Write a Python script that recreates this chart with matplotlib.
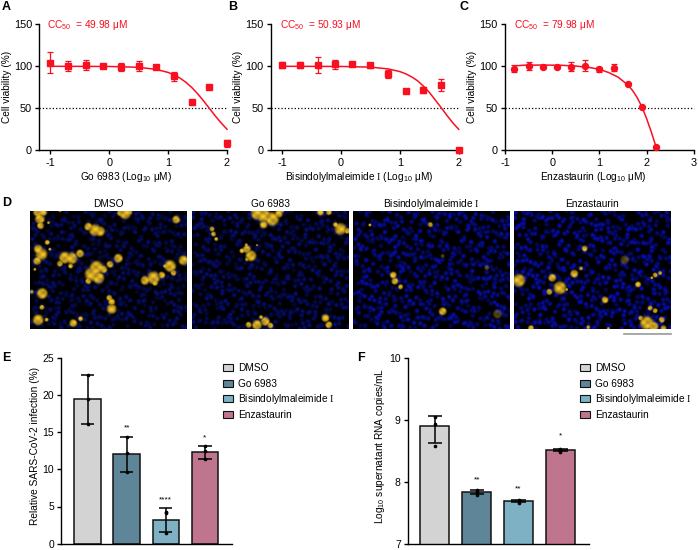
import numpy as np
import matplotlib
matplotlib.use("Agg")
import matplotlib.pyplot as plt
from matplotlib.patches import Rectangle

plt.rcParams['font.family'] = ['Liberation Sans', 'DejaVu Sans']
plt.rcParams['mathtext.fontset'] = 'custom'
plt.rcParams['mathtext.rm'] = 'Liberation Sans'
plt.rcParams['mathtext.tt'] = 'Liberation Serif'
plt.rcParams['mathtext.default'] = 'rm'
plt.rcParams['axes.unicode_minus'] = False

W, H = 698, 550
RED = "#f80f20"
FS = 7.3
BIS = "Bisindolylmaleimide $\\mathtt{I}$"

# dose response data
a_x = [-1, -0.7, -0.4, -0.1, 0.2, 0.5, 0.8, 1.1, 1.4, 1.7, 2]
a_y = [104, 100.5, 101.5, 100.5, 99.5, 100.5, 99.5, 88, 58, 75.5, 8.5]
a_err = [12.5, 5.5, 5.5, 2, 4.5, 6, 2, 5.5, 0, 0, 4]
a_fit_x = [-1, 0, 0.5, 0.8, 1, 1.1, 1.2, 1.3, 1.4, 1.5, 1.6, 1.7, 1.8, 1.9, 2]
a_fit_y = [100, 99.8, 98.8, 96.3, 92.7, 89.9, 86, 81.1, 74.9, 67.4, 59, 50, 41, 32.6, 25.1]

b_x = [-1, -0.7, -0.4, -0.1, 0.18, 0.5, 0.8, 1.1, 1.4, 1.7, 2]
b_y = [102, 101.5, 101.5, 102.5, 102.5, 101, 90.5, 71, 72, 78, 0.5]
b_err = [3.5, 3.5, 9, 5.5, 2, 3.5, 5, 0, 3.5, 7, 0]
b_fit_x = [-1, 0, 0.5, 0.8, 1, 1.1, 1.2, 1.3, 1.4, 1.5, 1.6, 1.7, 1.8, 1.9, 2]
b_fit_y = [100, 99.8, 99, 96.9, 93.7, 91, 87.4, 82.8, 76.4, 69, 60, 51, 41.5, 32.7, 25]

c_x = [-0.8, -0.5, -0.2, 0.1, 0.4, 0.7, 1.0, 1.3, 1.6, 1.9, 2.2]
c_y = [97, 100.5, 99.5, 99, 99.5, 100.5, 96.5, 98.5, 79, 52, 4.5]
c_err = [4, 5, 1.5, 1.5, 5.5, 6.5, 3, 4, 1.5, 1, 0.5]
c_fit_x = [-0.8, -0.6, -0.2, 0.2, 0.5, 0.8, 1, 1.2, 1.4, 1.6, 1.7, 1.8, 1.9, 2, 2.1, 2.2]
c_fit_y = [100.5, 101.3, 101.5, 101.2, 100.3, 98.5, 96.5, 92.5, 87, 78, 71.5, 63, 52, 38, 22, 4.5]

# bar data
groups = ["DMSO", "Go 6983", BIS, "Enzastaurin"]
bar_colors = ["#d3d3d3", "#5f8598", "#7fb1c4", "#c0758f"]

e_means = [19.4, 12.1, 3.2, 12.3]
e_low = [16.1, 9.7, 1.6, 11.4]
e_high = [22.7, 14.4, 4.8, 13.1]
e_points = [[16.1, 19.5, 22.7], [9.7, 12.2, 14.4], [1.4, 4.1, 4.2], [11.4, 12.4, 13.1]]
e_sig = ["", "**", "****", "*"]
e_sig_y = [0, 15.5, 5.9, 14.2]

f_means = [8.9, 7.83, 7.69, 8.51]
f_low = [8.62, 7.8, 7.67, 8.49]
f_high = [9.06, 7.86, 7.71, 8.53]
f_points = [[8.58, 8.93, 9.05], [7.79, 7.83, 7.86], [7.66, 7.69, 7.71], [8.48, 8.51, 8.53]]
f_sig = ["", "**", "**", "*"]
f_sig_y = [0, 8.03, 7.88, 8.74]

# infected cell clusters seen in each micrograph: x, y, radius (3x pixels)
dmso_blobs = [(115,85,10),(130,85,8),(120,105,10),(122,125,7),(146,116,3),(265,128,8),(285,138,12),
    (300,142,10),(375,88,12),(360,88,6),(390,85,5),(528,107,8),(142,175,5),(115,195,9),(125,210,12),
    (112,230,8),(105,255,3),(150,195,3),(180,238,6),(195,220,12),(215,222,12),(240,208,8),(212,245,5),
    (355,222,9),(330,240,7),(310,255,8),(290,250,14),(275,270,14),(295,280,12),(265,290,6),(550,228,10),
    (510,245,12),(520,265,6),(495,245,4),(435,288,9),(460,280,13),(485,272,7),(465,295,6),(127,327,11),
    (96,322,4),(126,368,5),(328,340,6),(335,352,7),(335,373,10),(115,405,11),(140,405,4),(220,415,8),
    (242,402,5),(180,79,4)]
go_blobs = [(770,90,12),(790,95,14),(815,105,14),(790,122,8),(835,90,8),(845,80,5),(760,80,6),(960,85,7),
    (985,85,6),(635,135,5),(640,150,5),(648,165,4),(1005,122,5),(1020,135,12),(1040,140,6),(725,200,5),
    (740,195,8),(752,215,11),(740,225,4),(738,182,3),(770,183,2),(745,420,6),(770,420,10),(795,410,9),
    (810,422,6),(782,397,4),(975,400,8),(985,420,7)]
bis_blobs = [(60,123,3),(241,122,5),(130,272,7),(135,290,7),(152,307,5),(278,380,8)]
enz_blobs = [(507,288,13),(607,280,8),(630,310,13),(598,322,6),(650,315,3),(673,268,8),(693,252,4),
    (704,193,6),(915,272,5),(930,266,4),(905,280,3),(864,300,6),(765,346,7),(900,370,5),(915,378,5),
    (890,415,14),(872,400,5),(935,405,6),(910,425,10),(940,430,6),(543,430,6),(715,427,4),(775,431,3)]
bis_dim = [(278,215,4),(410,250,5),(442,388,9)]
enz_dim = [(824,227,9)]


def px_axes(fig, left, right, top, bottom):
    return fig.add_axes([left / W, 1 - bottom / H, (right - left) / W, (bottom - top) / H])


def style(ax, size):
    ax.spines['top'].set_visible(False)
    ax.spines['right'].set_visible(False)
    for s in ['left', 'bottom']:
        ax.spines[s].set_linewidth(1.0)
    ax.tick_params(width=1.0, length=3.2, labelsize=size, pad=2)


def dose_panel(fig, box, xlim, xticks, x, y, err, fx, fy, marker, xlabel, label_px, cc50, cc_x):
    ax = px_axes(fig, *box)
    style(ax, 7.8)
    ax.plot(xlim, [50, 50], color="black", ls=":", lw=0.9, clip_on=False)
    ax.plot(fx, fy, color=RED, lw=1.1, clip_on=False, zorder=3)
    ax.errorbar(x, y, yerr=err, fmt=marker, color=RED, ms=4.3, lw=0.9, capsize=2.3, capthick=0.9,
                clip_on=False, zorder=4)
    ax.set_xlim(xlim)
    ax.set_ylim(0, 150)
    ax.set_xticks(xticks)
    ax.set_yticks([0, 50, 100, 150])
    ax.set_xlabel(xlabel, fontsize=FS, labelpad=1.5, x=(label_px - box[0]) / (box[1] - box[0]))
    ax.set_ylabel("Cell viability (%)", fontsize=FS, labelpad=1.5)
    fig.text(cc_x / W, 1 - 25.5 / H, "CC$_{50}$  = " + cc50 + " \u03bcM", color=RED, fontsize=FS,
             va='center')
    return ax


def bar_panel(fig, box, xlim, ylim, yticks, means, low, high, points, sig, sig_y, width, ylabel, leg_x):
    ax = px_axes(fig, *box)
    style(ax, 7.5)
    xs = np.arange(len(means))
    ax.bar(xs, means, width=width, color=bar_colors, edgecolor="#111111", linewidth=1.1)
    ax.vlines(xs, low, high, color="black", lw=1.1, zorder=4)
    ax.hlines(low, xs - 0.17, xs + 0.17, color="black", lw=1.1, zorder=4)
    ax.hlines(high, xs - 0.17, xs + 0.17, color="black", lw=1.1, zorder=4)
    for i, pts in enumerate(points):
        ax.scatter([i] * len(pts), pts, s=7, color="black", zorder=5, linewidths=0)
        if sig[i]:
            ax.text(i, sig_y[i], sig[i], ha='center', va='center', fontsize=6)
    ax.set_xlim(xlim)
    ax.set_ylim(ylim)
    ax.set_xticks([])
    ax.set_yticks(yticks)
    ax.set_ylabel(ylabel, fontsize=FS, labelpad=1.5, y=0.525)
    # legend placed by hand, the mathtext entry upsets fig.legend spacing
    for g, c, y_px in zip(groups, bar_colors, [367.7, 383.3, 398.7, 414.3]):
        fig.add_artist(Rectangle((leg_x / W, 1 - (y_px + 3.5) / H), 10 / W, 7 / H, facecolor=c,
                                 edgecolor="#111111", linewidth=0.8, transform=fig.transFigure))
        fig.text((leg_x + 15.5) / W, 1 - (y_px + 3.5) / H, g, fontsize=FS, va='baseline')
    return ax


def micrograph(blobs, dim, x0, y0, bright):
    # nuclei on a jittered pattern, clusters
    w, h = 470, 354
    yy, xx = np.mgrid[0:h, 0:w]
    blue = np.zeros((h, w))
    n = 640
    for i in range(n):
        j = i + x0
        cx = (j * 0.7548776662 + 0.09 * np.sin(j * 12.9898)) % 1 * w
        cy = (j * 0.5698402910 + 0.09 * np.sin(j * 78.233)) % 1 * h
        level = 0.45 + 0.55 * ((j * 0.618034) % 1)
        l, r = int(max(cx - 16, 0)), int(min(cx + 17, w))
        b, t = int(max(cy - 16, 0)), int(min(cy + 17, h))
        d2 = (xx[b:t, l:r] - cx) ** 2 + (yy[b:t, l:r] - cy) ** 2
        blue[b:t, l:r] = np.maximum(blue[b:t, l:r], level * np.exp(-(d2 / 45.0) ** 1.5))
    yellow = np.zeros((h, w))
    for bx, by, r in blobs:
        d2 = (xx - (bx - x0)) ** 2 + (yy - (by - y0)) ** 2
        yellow = np.maximum(yellow, np.exp(-(d2 / (r * r * 2.0)) ** 3))
    for bx, by, r in dim:
        d2 = (xx - (bx - x0)) ** 2 + (yy - (by - y0)) ** 2
        yellow = np.maximum(yellow, 0.4 * np.exp(-(d2 / (r * r * 2.0)) ** 3))
    # mottled look of the clusters
    tex = 0.84 + 0.16 * np.sin(xx / 5.0) * np.sin(yy / 4.0)
    yellow = yellow[..., None]
    base = blue[..., None] * np.array([6, 14, bright]) / 255.0
    top = np.array([250, 200, 40]) / 255.0 * tex[..., None]
    return np.clip(base * (1 - yellow) + top * yellow, 0, 1)


fig = plt.figure(figsize=(W / 100, H / 100), dpi=100)

dose_panel(fig, (39.3, 227, 24.3, 150.3), [-1.187, 2], [-1, 0, 1, 2], a_x, a_y, a_err, a_fit_x, a_fit_y, 's',
           "Go 6983 (Log$_{10}$ \u03bcM)", 126.5, "49.98", 47)
dose_panel(fig, (270.7, 458.7, 24.3, 150.3), [-1.197, 2], [-1, 0, 1, 2], b_x, b_y, b_err, b_fit_x, b_fit_y, 's',
           BIS + " (Log$_{10}$ \u03bcM)", 359, "50.93", 279.5)
dose_panel(fig, (505, 693.7, 24.3, 150.3), [-1, 3], [-1, 0, 1, 2, 3], c_x, c_y, c_err, c_fit_x, c_fit_y, 'o',
           "Enzastaurin (Log$_{10}$ \u03bcM)", 593, "79.98", 513.5)

# micrographs
panels = [("DMSO", 30.3, 187, dmso_blobs, [], 91, 79, 115),
          ("Go 6983", 192, 348.7, go_blobs, [], 576, 79, 125),
          (BIS, 353.3, 509.7, bis_blobs, bis_dim, 10, 79, 175),
          ("Enzastaurin", 514.3, 670.7, enz_blobs, enz_dim, 493, 79, 190)]
for name, left, right, blobs, dim, x0, y0, bright in panels:
    ax = px_axes(fig, left, right, 211.3, 329.3)
    ax.imshow(micrograph(blobs, dim, x0, y0, bright), aspect='auto', interpolation='antialiased')
    ax.axis('off')
    fig.text((left + right) / 2 / W, 1 - 204 / H, name, ha='center', va='center', fontsize=FS)
fig.add_artist(plt.Line2D([624 / W, 670.7 / W], [1 - 334 / H] * 2, color="#9a9a9a", lw=1.2))

bar_panel(fig, (61.3, 232.3, 357.7, 543.7), [-0.675, 3.7], [0, 25], [0, 5, 10, 15, 20, 25],
          e_means, e_low, e_high, e_points, e_sig, e_sig_y, 0.68, "Relative SARS-CoV-2 infection (%)", 223)
bar_panel(fig, (408, 589, 357.7, 543.7), [-0.637, 3.68], [7, 10], [7, 8, 9, 10],
          f_means, f_low, f_high, f_points, f_sig, f_sig_y, 0.685, "Log$_{10}$ supernatant RNA copies/mL", 579.5)

labels = [("A", 2, 7), ("B", 228, 7), ("C", 460, 7), ("D", 2, 203), ("E", 2, 358), ("F", 357, 358)]
for lab, x, y in labels:
    fig.text(x / W, 1 - y / H, lab, fontsize=9, fontweight='bold', va='center')

fig.savefig("out.png", dpi=100)
